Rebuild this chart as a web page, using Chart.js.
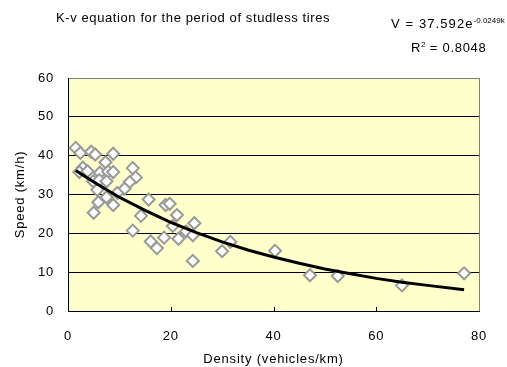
<!DOCTYPE html>
<html>
<head>
<meta charset="utf-8">
<script src="https://cdn.jsdelivr.net/npm/chart.js@4"></script>
<style>
  html, body { margin: 0; padding: 0; background: #fff; }
  #wrap { position: relative; width: 507px; height: 367px; font-family: "Liberation Sans", Arial, sans-serif; color: #000; }
  #title { position: absolute; left: 56px; top: 10px; font-size: 13px; letter-spacing: 0.6px; white-space: nowrap; }
  #eq1 { position: absolute; left: 391px; top: 16px; font-size: 13px; letter-spacing: 1.1px; white-space: nowrap; }
  #eq1 sup { font-size: 8px; letter-spacing: 0; vertical-align: super; line-height: 0; }
  #eq2 { position: absolute; left: 411px; top: 40px; font-size: 13px; letter-spacing: 0.7px; white-space: nowrap; }
  #eq2 sup { font-size: 8px; letter-spacing: 0; vertical-align: super; line-height: 0; }
  canvas { position: absolute; left: 0; top: 0; }
</style>
</head>
<body>
<div id="wrap">
  <canvas id="c" width="507" height="367"></canvas>
  <div id="title">K-v equation for the period of studless tires</div>
  <div id="eq1">V = 37.592e<sup>-0.0249k</sup></div>
  <div id="eq2">R<sup>2</sup> = 0.8048</div>
</div>
<script>
// Observed data: density (vehicles/km) and speed (km/h)
const densityValues = [1.5, 2.4, 4.5, 5.3, 8.8, 7.3, 2.9, 2.2, 3.8, 6.2, 7.8, 8.8, 12.6, 13.2, 12.0, 11.0,
  4.9, 6.1, 7.5, 5.7, 7.5, 9.6, 5.9, 8.8, 5.0, 15.7, 14.2, 12.6, 19.0, 19.8, 21.2, 20.4, 24.6, 23.0,
  24.3, 21.5, 18.7, 16.1, 17.3, 24.3, 30.0, 31.6, 40.3, 47.1, 52.5, 65.0, 77.1];
const speedValues = [42.0, 40.7, 41.0, 40.3, 40.5, 38.3, 36.9, 35.8, 36.0, 35.6, 35.9, 35.8, 36.8, 34.4, 33.2, 31.5,
  33.4, 33.7, 33.4, 31.2, 29.3, 30.4, 28.0, 27.3, 25.3, 28.7, 24.5, 20.7, 27.3, 27.6, 24.7, 21.9, 22.6, 20.5,
  19.5, 18.6, 18.9, 17.9, 16.2, 12.9, 15.4, 17.8, 15.5, 9.2, 9.0, 6.6, 9.7];
// Trend line
const trendDensity = [1.5, 5, 10, 15, 20, 25, 30, 35, 40, 45, 50, 55, 60, 65, 70, 77.1];
const trendSpeed = [36.2, 33.2, 29.3, 25.9, 22.8, 20.2, 17.8, 15.7, 13.9, 12.3, 10.8, 9.6, 8.4, 7.4, 6.6, 5.5];
// Axis ticks
const xTicks = [0, 20, 40, 60, 80];
const yTicks = [0, 10, 20, 30, 40, 50, 60];

const scatterData = densityValues.map((x, i) => ({ x: x, y: speedValues[i] }));
const trendData = trendDensity.map((x, i) => ({ x: x, y: trendSpeed[i] }));

const FONT = "'Liberation Sans', Arial, sans-serif";

const bgPlugin = {
  id: 'plotbg',
  beforeDraw(chart) {
    const { ctx, chartArea: a } = chart;
    if ('letterSpacing' in ctx) ctx.letterSpacing = '0.8px';
    ctx.save();
    ctx.fillStyle = '#FFFFCC';
    ctx.fillRect(a.left, a.top, a.right - a.left, a.bottom - a.top);
    ctx.restore();
  },
  afterDatasetsDraw(chart) {
    const { ctx, chartArea: a } = chart;
    const xs = chart.scales.x;
    ctx.save();
    ctx.strokeStyle = '#000';
    ctx.lineWidth = 1;
    xTicks.slice(1, -1).forEach(v => {
      const px = Math.round(xs.getPixelForValue(v)) + 0.5;
      ctx.beginPath();
      ctx.moveTo(px, a.bottom);
      ctx.lineTo(px, a.bottom - 4);
      ctx.stroke();
    });
    ctx.restore();
  }
};

new Chart(document.getElementById('c'), {
  type: 'scatter',
  data: {
    datasets: [
      {
        label: 'trend',
        data: trendData,
        showLine: true,
        borderColor: '#000',
        borderWidth: 3,
        pointRadius: 0,
        pointHoverRadius: 0,
        fill: false,
        tension: 0
      },
      {
        label: 'observed',
        data: scatterData,
        pointStyle: 'rectRot',
        pointRadius: 6,
        pointHoverRadius: 6,
        backgroundColor: '#fff',
        borderColor: '#999999',
        borderWidth: 2
      }
    ]
  },
  options: {
    responsive: false,
    animation: false,
    layout: { padding: { left: 0, right: 28, top: 78, bottom: 0 } },
    plugins: {
      legend: { display: false },
      tooltip: { enabled: false },
      title: { display: false }
    },
    scales: {
      x: {
        type: 'linear',
        min: 0, max: 80,
        afterFit(scale) { scale.height = 56; },
        afterBuildTicks(scale) { scale.ticks = xTicks.map(v => ({ value: v })); },
        ticks: { padding: 18, color: '#000', font: { family: FONT, size: 13 } },
        grid: {
          drawTicks: false,
          color: ctx => (ctx.tick && ctx.tick.value === 80) ? '#808080' : 'rgba(0,0,0,0)',
          lineWidth: 1
        },
        border: { display: true, color: '#000', width: 1 },
        title: {
          display: true,
          text: 'Density (vehicles/km)',
          color: '#000',
          font: { family: FONT, size: 13 },
          padding: { top: 0, bottom: 0 }
        }
      },
      y: {
        type: 'linear',
        min: 0, max: 60,
        afterFit(scale) { scale.width = 68; },
        afterBuildTicks(scale) { scale.ticks = yTicks.map(v => ({ value: v })); },
        ticks: { padding: 14, color: '#000', font: { family: FONT, size: 13 } },
        grid: {
          drawTicks: false,
          color: ctx => (ctx.tick && ctx.tick.value === 60) ? '#808080' : '#000',
          lineWidth: 1
        },
        border: { display: true, color: '#000', width: 1 },
        title: {
          display: true,
          text: 'Speed (km/h)',
          color: '#000',
          font: { family: FONT, size: 13 },
          padding: { top: 13, bottom: 0 }
        }
      }
    }
  },
  plugins: [bgPlugin]
});
</script>
</body>
</html>
